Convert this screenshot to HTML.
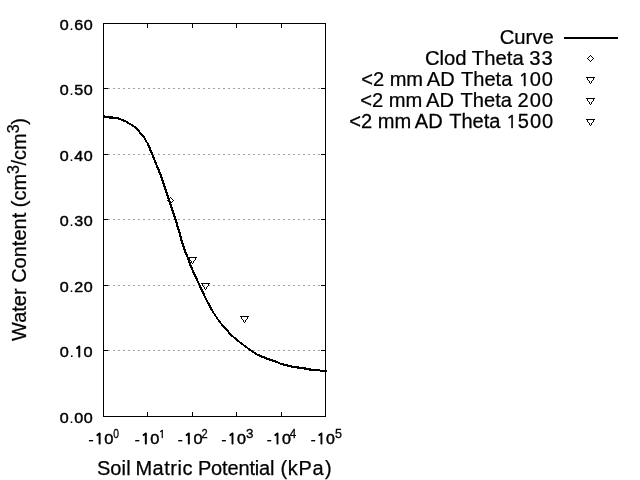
<!DOCTYPE html><html><head><meta charset="utf-8"><title>Water Retention Curve</title><style>
html,body{margin:0;padding:0;background:#fff;overflow:hidden}svg{display:block;will-change:transform;filter:grayscale(1)}text{font-family:"Liberation Sans",Arial,sans-serif;fill:#000}
</style></head><body>
<svg width="640" height="480" viewBox="0 0 640 480">
<rect width="640" height="480" fill="#fff"/>
<g stroke="#a0a0a0" stroke-width="1" stroke-dasharray="2 3" shape-rendering="crispEdges">
<line x1="108" y1="350.5" x2="321" y2="350.5"/>
<line x1="108" y1="285.5" x2="321" y2="285.5"/>
<line x1="108" y1="219.5" x2="321" y2="219.5"/>
<line x1="108" y1="154.5" x2="321" y2="154.5"/>
<line x1="108" y1="88.5" x2="321" y2="88.5"/>
</g>
<g stroke="#000" stroke-width="1" fill="none" shape-rendering="crispEdges">
<rect x="103.5" y="23.5" width="222" height="393"/>
<line x1="103" y1="416.5" x2="108" y2="416.5"/><line x1="321" y1="416.5" x2="326" y2="416.5"/>
<line x1="103" y1="350.5" x2="108" y2="350.5"/><line x1="321" y1="350.5" x2="326" y2="350.5"/>
<line x1="103" y1="285.5" x2="108" y2="285.5"/><line x1="321" y1="285.5" x2="326" y2="285.5"/>
<line x1="103" y1="219.5" x2="108" y2="219.5"/><line x1="321" y1="219.5" x2="326" y2="219.5"/>
<line x1="103" y1="154.5" x2="108" y2="154.5"/><line x1="321" y1="154.5" x2="326" y2="154.5"/>
<line x1="103" y1="88.5" x2="108" y2="88.5"/><line x1="321" y1="88.5" x2="326" y2="88.5"/>
<line x1="103" y1="23.5" x2="108" y2="23.5"/><line x1="321" y1="23.5" x2="326" y2="23.5"/>
<line x1="103.5" y1="412" x2="103.5" y2="417"/><line x1="103.5" y1="23" x2="103.5" y2="28"/>
<line x1="147.5" y1="412" x2="147.5" y2="417"/><line x1="147.5" y1="23" x2="147.5" y2="28"/>
<line x1="192.5" y1="412" x2="192.5" y2="417"/><line x1="192.5" y1="23" x2="192.5" y2="28"/>
<line x1="236.5" y1="412" x2="236.5" y2="417"/><line x1="236.5" y1="23" x2="236.5" y2="28"/>
<line x1="281.5" y1="412" x2="281.5" y2="417"/><line x1="281.5" y1="23" x2="281.5" y2="28"/>
<line x1="325.5" y1="412" x2="325.5" y2="417"/><line x1="325.5" y1="23" x2="325.5" y2="28"/>
</g>
<path d="M103,115h2v1h-2ZM104.00,115.85L117.00,116.85L117.00,119.15L104.00,118.15ZM117.00,116.85L125.00,119.85L125.00,122.15L117.00,119.15ZM125.00,119.85L130.00,122.85L130.00,125.15L125.00,122.15ZM130.00,122.85L135.00,125.85L135.00,128.15L130.00,125.15ZM135.00,125.85L138.00,128.85L138.00,131.15L135.00,128.15ZM139.15,130.00L142.15,134.00L139.85,134.00L136.85,130.00ZM141.00,132.85L144.00,135.85L144.00,138.15L141.00,135.15ZM145.15,137.00L147.15,141.00L144.85,141.00L142.85,137.00ZM147.15,141.00L149.15,144.00L146.85,144.00L144.85,141.00ZM149.15,144.00L162.15,176.00L159.85,176.00L146.85,144.00ZM162.15,176.00L170.15,200.00L167.85,200.00L159.85,176.00ZM170.15,200.00L176.15,218.00L173.85,218.00L167.85,200.00ZM176.15,218.00L180.15,231.00L177.85,231.00L173.85,218.00ZM180.15,231.00L183.15,242.00L180.85,242.00L177.85,231.00ZM183.15,242.00L186.15,251.00L183.85,251.00L180.85,242.00ZM186.15,251.00L189.15,258.00L186.85,258.00L183.85,251.00ZM189.15,258.00L191.15,264.00L188.85,264.00L186.85,258.00ZM191.15,264.00L193.15,269.00L190.85,269.00L188.85,264.00ZM193.15,269.00L207.15,299.00L204.85,299.00L190.85,269.00ZM207.15,299.00L214.15,312.00L211.85,312.00L204.85,299.00ZM214.15,312.00L220.15,321.00L217.85,321.00L211.85,312.00ZM220.15,321.00L224.15,326.00L221.85,326.00L217.85,321.00ZM223.00,324.85L227.00,328.85L227.00,331.15L223.00,327.15ZM228.15,330.00L231.15,334.00L228.85,334.00L225.85,330.00ZM230.00,332.85L232.00,334.85L232.00,337.15L230.00,335.15ZM232.00,334.85L235.00,336.85L235.00,339.15L232.00,337.15ZM235.00,336.85L237.00,338.85L237.00,341.15L235.00,339.15ZM237.00,338.85L250.00,348.85L250.00,351.15L237.00,341.15ZM250.00,348.85L258.00,353.85L258.00,356.15L250.00,351.15ZM258.00,353.85L263.00,355.85L263.00,358.15L258.00,356.15ZM263.00,355.85L268.00,357.85L268.00,360.15L263.00,358.15ZM268.00,357.85L271.00,358.85L271.00,361.15L268.00,360.15ZM271.00,358.85L274.00,359.85L274.00,362.15L271.00,361.15ZM274.00,359.85L277.00,360.85L277.00,363.15L274.00,362.15ZM277.00,360.85L279.00,361.85L279.00,364.15L277.00,363.15ZM279.00,361.85L281.00,362.85L281.00,365.15L279.00,364.15ZM281.00,362.85L294.00,365.85L294.00,368.15L281.00,365.15ZM294.00,365.85L302.00,366.85L302.00,369.15L294.00,368.15ZM302.00,366.85L308.00,367.85L308.00,370.15L302.00,369.15ZM308.00,367.85L312.00,368.85L312.00,371.15L308.00,370.15ZM312.00,368.85L316.00,368.85L316.00,371.15L312.00,371.15ZM316.00,368.85L319.00,368.85L319.00,371.15L316.00,371.15ZM319.00,368.85L321.00,369.85L321.00,372.15L319.00,371.15ZM321.00,369.85L323.00,369.85L323.00,372.15L321.00,372.15ZM323.00,369.85L327.00,369.85L327.00,372.15L323.00,372.15ZM116,117h2v2h-2ZM124,120h2v2h-2ZM129,123h2v2h-2ZM134,126h2v2h-2ZM137,129h2v2h-2ZM140,133h2v2h-2ZM143,136h2v2h-2ZM145,140h2v2h-2ZM147,143h2v2h-2ZM160,175h2v2h-2ZM168,199h2v2h-2ZM174,217h2v2h-2ZM178,230h2v2h-2ZM181,241h2v2h-2ZM184,250h2v2h-2ZM187,257h2v2h-2ZM189,263h2v2h-2ZM191,268h2v2h-2ZM205,298h2v2h-2ZM212,311h2v2h-2ZM218,320h2v2h-2ZM222,325h2v2h-2ZM226,329h2v2h-2ZM229,333h2v2h-2ZM231,335h2v2h-2ZM234,337h2v2h-2ZM236,339h2v2h-2ZM249,349h2v2h-2ZM257,354h2v2h-2ZM262,356h2v2h-2ZM267,358h2v2h-2ZM270,359h2v2h-2ZM273,360h2v2h-2ZM276,361h2v2h-2ZM278,362h2v2h-2ZM280,363h2v2h-2ZM293,366h2v2h-2ZM301,367h2v2h-2ZM307,368h2v2h-2ZM311,369h2v2h-2ZM315,369h2v2h-2ZM318,369h2v2h-2ZM320,370h2v2h-2ZM322,370h2v2h-2Z" fill="#000" stroke="none" shape-rendering="crispEdges"/>
<g stroke="#000" stroke-width="1" fill="none" shape-rendering="crispEdges">
<path d="M167.5,200.5L170.5,197.5L173.5,200.5L170.5,203.5Z"/>
<path d="M188.5,257.5L196.5,257.5L192.5,263.5Z"/>
<path d="M201.5,283.5L209.5,283.5L205.5,289.5Z"/>
<path d="M240.5,316.5L248.5,316.5L244.5,322.5Z"/>
<path d="M587.5,58.5L590.5,55.5L593.5,58.5L590.5,61.5Z"/>
<path d="M586.5,77.5L594.5,77.5L590.5,83.5Z"/>
<path d="M586.5,98.5L594.5,98.5L590.5,104.5Z"/>
<path d="M586.5,119.5L594.5,119.5L590.5,125.5Z"/>
</g>
<line x1="564" y1="38" x2="618" y2="38" stroke="#000" stroke-width="2" shape-rendering="crispEdges"/>
<text id="yt0" letter-spacing="0.5" font-size="15.3" stroke="#000" stroke-width="0.45" transform="translate(59.78,422.65) scale(1.0526,1)">0<tspan stroke-width="0">.</tspan>00</text>
<text id="yt1" letter-spacing="0.5" font-size="15.3" stroke="#000" stroke-width="0.45" transform="translate(59.77,356.65) scale(1.0667,1)">0<tspan stroke-width="0">.</tspan><tspan font-family="NanumGothic,Liberation Sans,sans-serif" font-size="13.46" stroke-width="0.9">1</tspan><tspan dx="-0.21">0</tspan></text>
<text id="yt2" letter-spacing="0.5" font-size="15.3" stroke="#000" stroke-width="0.45" transform="translate(59.78,291.65) scale(1.0526,1)">0<tspan stroke-width="0">.</tspan>20</text>
<text id="yt3" letter-spacing="0.5" font-size="15.3" stroke="#000" stroke-width="0.45" transform="translate(59.78,225.65) scale(1.0526,1)">0<tspan stroke-width="0">.</tspan>30</text>
<text id="yt4" letter-spacing="0.5" font-size="15.3" stroke="#000" stroke-width="0.45" transform="translate(59.78,160.65) scale(1.0526,1)">0<tspan stroke-width="0">.</tspan>40</text>
<text id="yt5" letter-spacing="0.5" font-size="15.3" stroke="#000" stroke-width="0.45" transform="translate(59.78,94.65) scale(1.0526,1)">0<tspan stroke-width="0">.</tspan>50</text>
<text id="yt6" letter-spacing="0.5" font-size="15.3" stroke="#000" stroke-width="0.45" transform="translate(59.78,29.65) scale(1.0526,1)">0<tspan stroke-width="0">.</tspan>60</text>
<text id="xt0" letter-spacing="0.9" font-size="15.3" stroke="#000" stroke-width="0.45" transform="translate(88.25,443.70) scale(1.0804,1)"><tspan dy="1.1" stroke-width="0.15">-</tspan><tspan font-family="NanumGothic,Liberation Sans,sans-serif" font-size="13.46" stroke-width="0.9" dy="-1.1">1</tspan><tspan dx="-0.21">0</tspan></text><text id="xs0" font-size="12.4" stroke="#000" stroke-width="0.3" transform="translate(113.27,438.00) scale(0.8306,1)">0</text>
<text id="xt1" letter-spacing="0.9" font-size="15.3" stroke="#000" stroke-width="0.45" transform="translate(134.46,443.70) scale(1.0714,1)"><tspan dy="1.1" stroke-width="0.15">-</tspan><tspan font-family="NanumGothic,Liberation Sans,sans-serif" font-size="13.46" stroke-width="0.9" dy="-1.1">1</tspan><tspan dx="-0.21">0</tspan></text><text id="xs1" font-size="12.4" stroke="#000" stroke-width="0.3" transform="translate(158.69,438.00) scale(0.9333,1)"><tspan font-family="NanumGothic,Liberation Sans,sans-serif" font-size="11.35" stroke-width="0.5">1</tspan></text>
<text id="xt2" letter-spacing="0.9" font-size="15.3" stroke="#000" stroke-width="0.45" transform="translate(177.56,443.70) scale(1.0714,1)"><tspan dy="1.1" stroke-width="0.15">-</tspan><tspan font-family="NanumGothic,Liberation Sans,sans-serif" font-size="13.46" stroke-width="0.9" dy="-1.1">1</tspan><tspan dx="-0.21">0</tspan></text><text id="xs2" font-size="12.4" stroke="#000" stroke-width="0.3" transform="translate(201.54,438.00) scale(0.8917,1)">2</text>
<text id="xt3" letter-spacing="0.9" font-size="15.3" stroke="#000" stroke-width="0.45" transform="translate(221.37,443.70) scale(1.0580,1)"><tspan dy="1.1" stroke-width="0.15">-</tspan><tspan font-family="NanumGothic,Liberation Sans,sans-serif" font-size="13.46" stroke-width="0.9" dy="-1.1">1</tspan><tspan dx="-0.21">0</tspan></text><text id="xs3" font-size="12.4" stroke="#000" stroke-width="0.3" transform="translate(246.07,438.00) scale(1.0833,1)">3</text>
<text id="xt4" letter-spacing="0.9" font-size="15.3" stroke="#000" stroke-width="0.45" transform="translate(266.47,443.70) scale(1.0536,1)"><tspan dy="1.1" stroke-width="0.15">-</tspan><tspan font-family="NanumGothic,Liberation Sans,sans-serif" font-size="13.46" stroke-width="0.9" dy="-1.1">1</tspan><tspan dx="-0.21">0</tspan></text><text id="xs4" font-size="12.4" stroke="#000" stroke-width="0.3" transform="translate(289.81,438.00) scale(0.9375,1)">4</text>
<text id="xt5" letter-spacing="0.9" font-size="15.3" stroke="#000" stroke-width="0.45" transform="translate(310.57,443.70) scale(1.0446,1)"><tspan dy="1.1" stroke-width="0.15">-</tspan><tspan font-family="NanumGothic,Liberation Sans,sans-serif" font-size="13.46" stroke-width="0.9" dy="-1.1">1</tspan><tspan dx="-0.21">0</tspan></text><text id="xs5" font-size="12.4" stroke="#000" stroke-width="0.3" transform="translate(335.10,438.00) scale(1.0081,1)">5</text>
<text id="lg0" font-size="20.0" stroke="#000" stroke-width="0.25" transform="translate(499.69,43.90) scale(1.0135,1)">Curve</text>
<text id="lg1" font-size="20.0" stroke="#000" stroke-width="0.25" transform="translate(424.94,65.00) scale(1.0132,1)">Clod Theta <tspan letter-spacing="0.9">33</tspan></text>
<text id="lg2" font-size="20.0" stroke="#000" stroke-width="0.25" transform="translate(361.20,85.90) scale(1.0037,1)">&lt;2 mm <tspan dx="-1.8">A</tspan>D<tspan dx="0.8"> </tspan>Theta <tspan letter-spacing="0.9"><tspan font-family="NanumGothic,Liberation Sans,sans-serif" font-size="18.30" stroke-width="0.5" dx="0.50">1</tspan><tspan dx="-0.78">0</tspan>0</tspan></text>
<text id="lg3" font-size="20.0" stroke="#000" stroke-width="0.25" transform="translate(360.19,106.90) scale(1.0074,1)">&lt;2 mm <tspan dx="-1.8">A</tspan>D<tspan dx="0.8"> </tspan>Theta <tspan letter-spacing="0.9">200</tspan></text>
<text id="lg4" font-size="20.0" stroke="#000" stroke-width="0.25" transform="translate(349.20,127.90) scale(1.0040,1)">&lt;2 mm <tspan dx="-1.8">A</tspan>D<tspan dx="0.8"> </tspan>Theta <tspan letter-spacing="0.9"><tspan font-family="NanumGothic,Liberation Sans,sans-serif" font-size="18.30" stroke-width="0.5">1</tspan><tspan dx="-0.28">5</tspan>00</tspan></text>
<text id="xl" font-size="20.0" stroke="#000" stroke-width="0.25" y="474.8"><tspan x="96.90" letter-spacing="0.133">Soil</tspan> <tspan x="135.40" letter-spacing="0.520">Matric</tspan> <tspan x="197.90" letter-spacing="-0.150">Potential</tspan> <tspan x="280.60" letter-spacing="0.600">(kPa<tspan dx="0.8">)</tspan></tspan></text>
<text id="yl" font-size="20" stroke="#000" stroke-width="0.25" transform="translate(26.3,341) rotate(-90)">Water Content (cm<tspan font-size="16" dy="-7" letter-spacing="-0.45">3</tspan><tspan dy="7">/cm</tspan><tspan font-size="16" dy="-7" letter-spacing="-0.45">3</tspan><tspan dy="7">)</tspan></text>
</svg></body></html>
